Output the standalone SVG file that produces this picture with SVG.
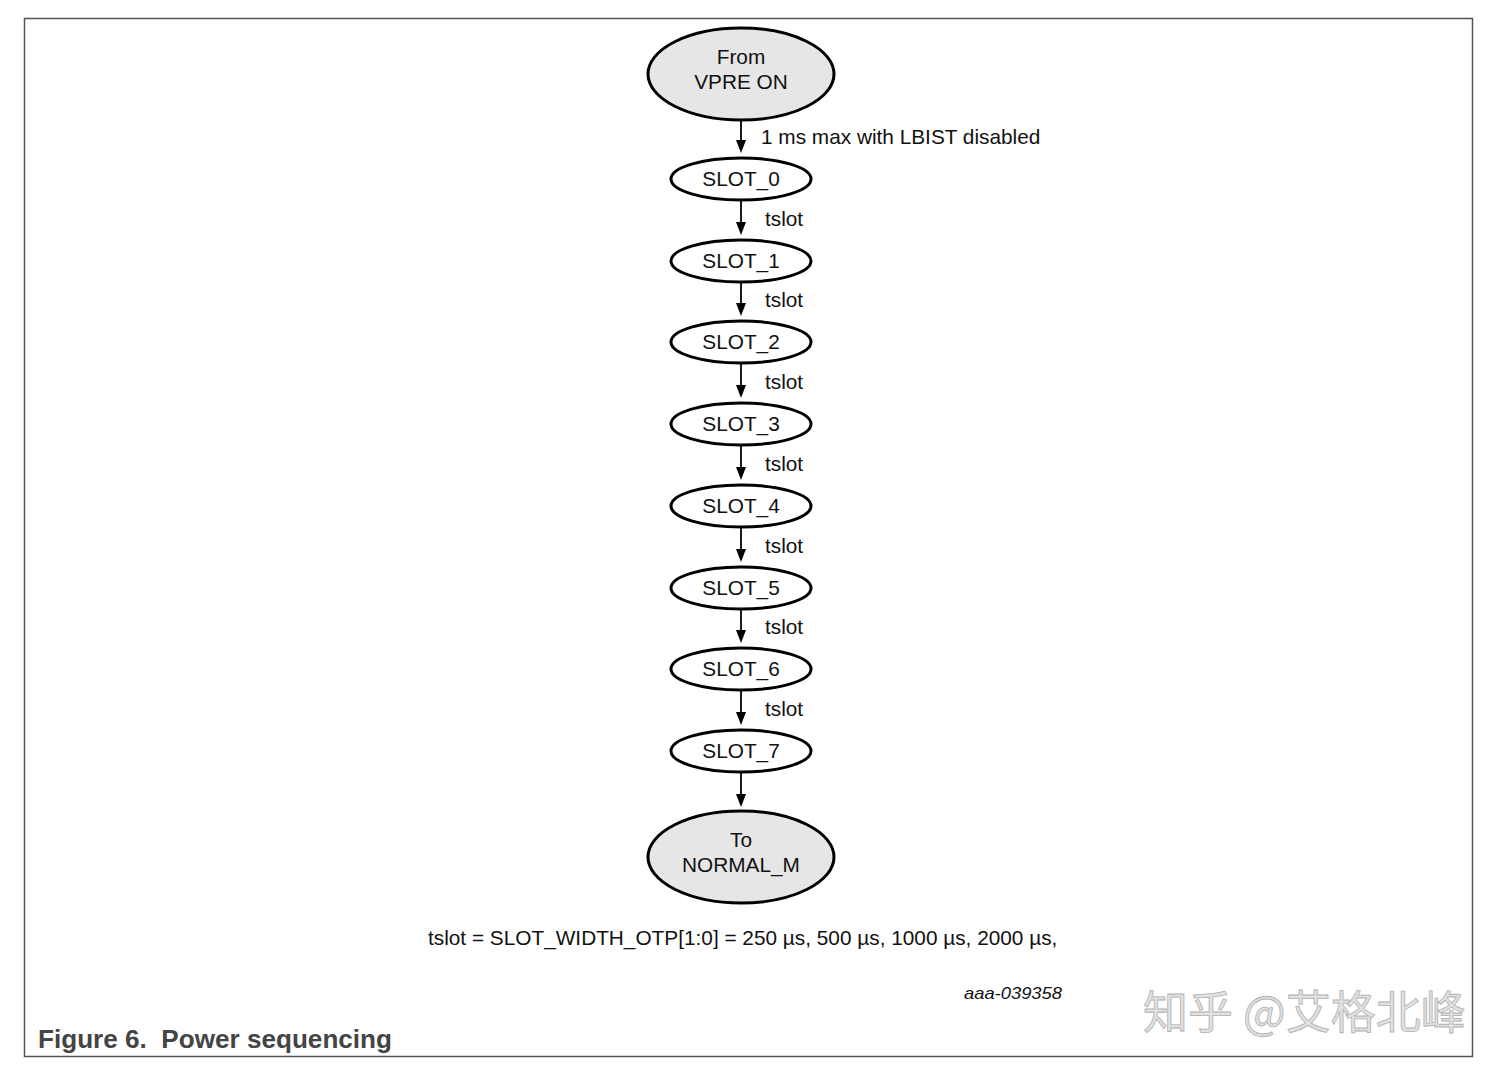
<svg xmlns="http://www.w3.org/2000/svg" width="1503" height="1073" viewBox="0 0 1503 1073">
<defs>
<style>
.t{font-family:"Liberation Sans",Arial,sans-serif;font-size:20.8px;fill:#111;}
.c{text-anchor:middle;}
.big{fill:#e6e6e6;stroke:#000;stroke-width:3;}
.slot{fill:#fff;stroke:#000;stroke-width:3;}
.edge{stroke:#000;stroke-width:1.8;fill:none;}
</style>
</defs>
<rect width="1503" height="1073" fill="#fff"/>
<rect x="24.5" y="18.5" width="1448" height="1038" fill="none" stroke="#555" stroke-width="1.5"/>

<g id="connectors">
<line class="edge" x1="741" y1="121" x2="741" y2="140"/><path d="M736,140 L746,140 L741,153 Z"/>
<line class="edge" x1="741" y1="201" x2="741" y2="222"/><path d="M736,222 L746,222 L741,235 Z"/>
<line class="edge" x1="741" y1="283" x2="741" y2="303"/><path d="M736,303 L746,303 L741,316 Z"/>
<line class="edge" x1="741" y1="364" x2="741" y2="385"/><path d="M736,385 L746,385 L741,398 Z"/>
<line class="edge" x1="741" y1="446" x2="741" y2="467"/><path d="M736,467 L746,467 L741,480 Z"/>
<line class="edge" x1="741" y1="528" x2="741" y2="549"/><path d="M736,549 L746,549 L741,562 Z"/>
<line class="edge" x1="741" y1="610" x2="741" y2="630"/><path d="M736,630 L746,630 L741,643 Z"/>
<line class="edge" x1="741" y1="691" x2="741" y2="712"/><path d="M736,712 L746,712 L741,725 Z"/>
<line class="edge" x1="741" y1="773" x2="741" y2="794"/><path d="M736,794 L746,794 L741,807 Z"/>
<text class="t" x="761" y="144">1 ms max with LBIST disabled</text>
<text class="t" x="765" y="226">tslot</text>
<text class="t" x="765" y="307">tslot</text>
<text class="t" x="765" y="389">tslot</text>
<text class="t" x="765" y="471">tslot</text>
<text class="t" x="765" y="553">tslot</text>
<text class="t" x="765" y="634">tslot</text>
<text class="t" x="765" y="716">tslot</text>
</g>

<g id="from"><ellipse class="big" cx="741" cy="74" rx="93" ry="46"/><text class="t c" x="741" y="64">From</text><text class="t c" x="741" y="89">VPRE ON</text></g>
<g id="slot0"><ellipse class="slot" cx="741" cy="179" rx="70" ry="21"/><text class="t c" x="741" y="186">SLOT_0</text></g>
<g id="slot1"><ellipse class="slot" cx="741" cy="261" rx="70" ry="21"/><text class="t c" x="741" y="268">SLOT_1</text></g>
<g id="slot2"><ellipse class="slot" cx="741" cy="342" rx="70" ry="21"/><text class="t c" x="741" y="349">SLOT_2</text></g>
<g id="slot3"><ellipse class="slot" cx="741" cy="424" rx="70" ry="21"/><text class="t c" x="741" y="431">SLOT_3</text></g>
<g id="slot4"><ellipse class="slot" cx="741" cy="506" rx="70" ry="21"/><text class="t c" x="741" y="513">SLOT_4</text></g>
<g id="slot5"><ellipse class="slot" cx="741" cy="588" rx="70" ry="21"/><text class="t c" x="741" y="595">SLOT_5</text></g>
<g id="slot6"><ellipse class="slot" cx="741" cy="669" rx="70" ry="21"/><text class="t c" x="741" y="676">SLOT_6</text></g>
<g id="slot7"><ellipse class="slot" cx="741" cy="751" rx="70" ry="21"/><text class="t c" x="741" y="758">SLOT_7</text></g>
<g id="to"><ellipse class="big" cx="741" cy="857" rx="93" ry="46"/><text class="t c" x="741" y="847">To</text><text class="t c" x="741" y="872">NORMAL_M</text></g>

<text class="t" x="428" y="945">tslot = SLOT_WIDTH_OTP[1:0] = 250 µs, 500 µs, 1000 µs, 2000 µs,</text>
<text x="1062" y="999" text-anchor="end" font-family="Liberation Sans,Arial,sans-serif" font-size="17" font-style="italic" fill="#111" textLength="98" lengthAdjust="spacingAndGlyphs">aaa-039358</text>
<text x="38" y="1048" font-family="Liberation Sans,Arial,sans-serif" font-size="25" font-weight="bold" fill="#444" xml:space="preserve" textLength="354" lengthAdjust="spacingAndGlyphs">Figure 6.  Power sequencing</text>
<text x="1143" y="1029" font-family="Noto Sans CJK SC,sans-serif" font-size="45" fill="#e2e2e2" stroke="#b0b0b0" stroke-width="0.8">知乎 @艾格北峰</text>
</svg>
